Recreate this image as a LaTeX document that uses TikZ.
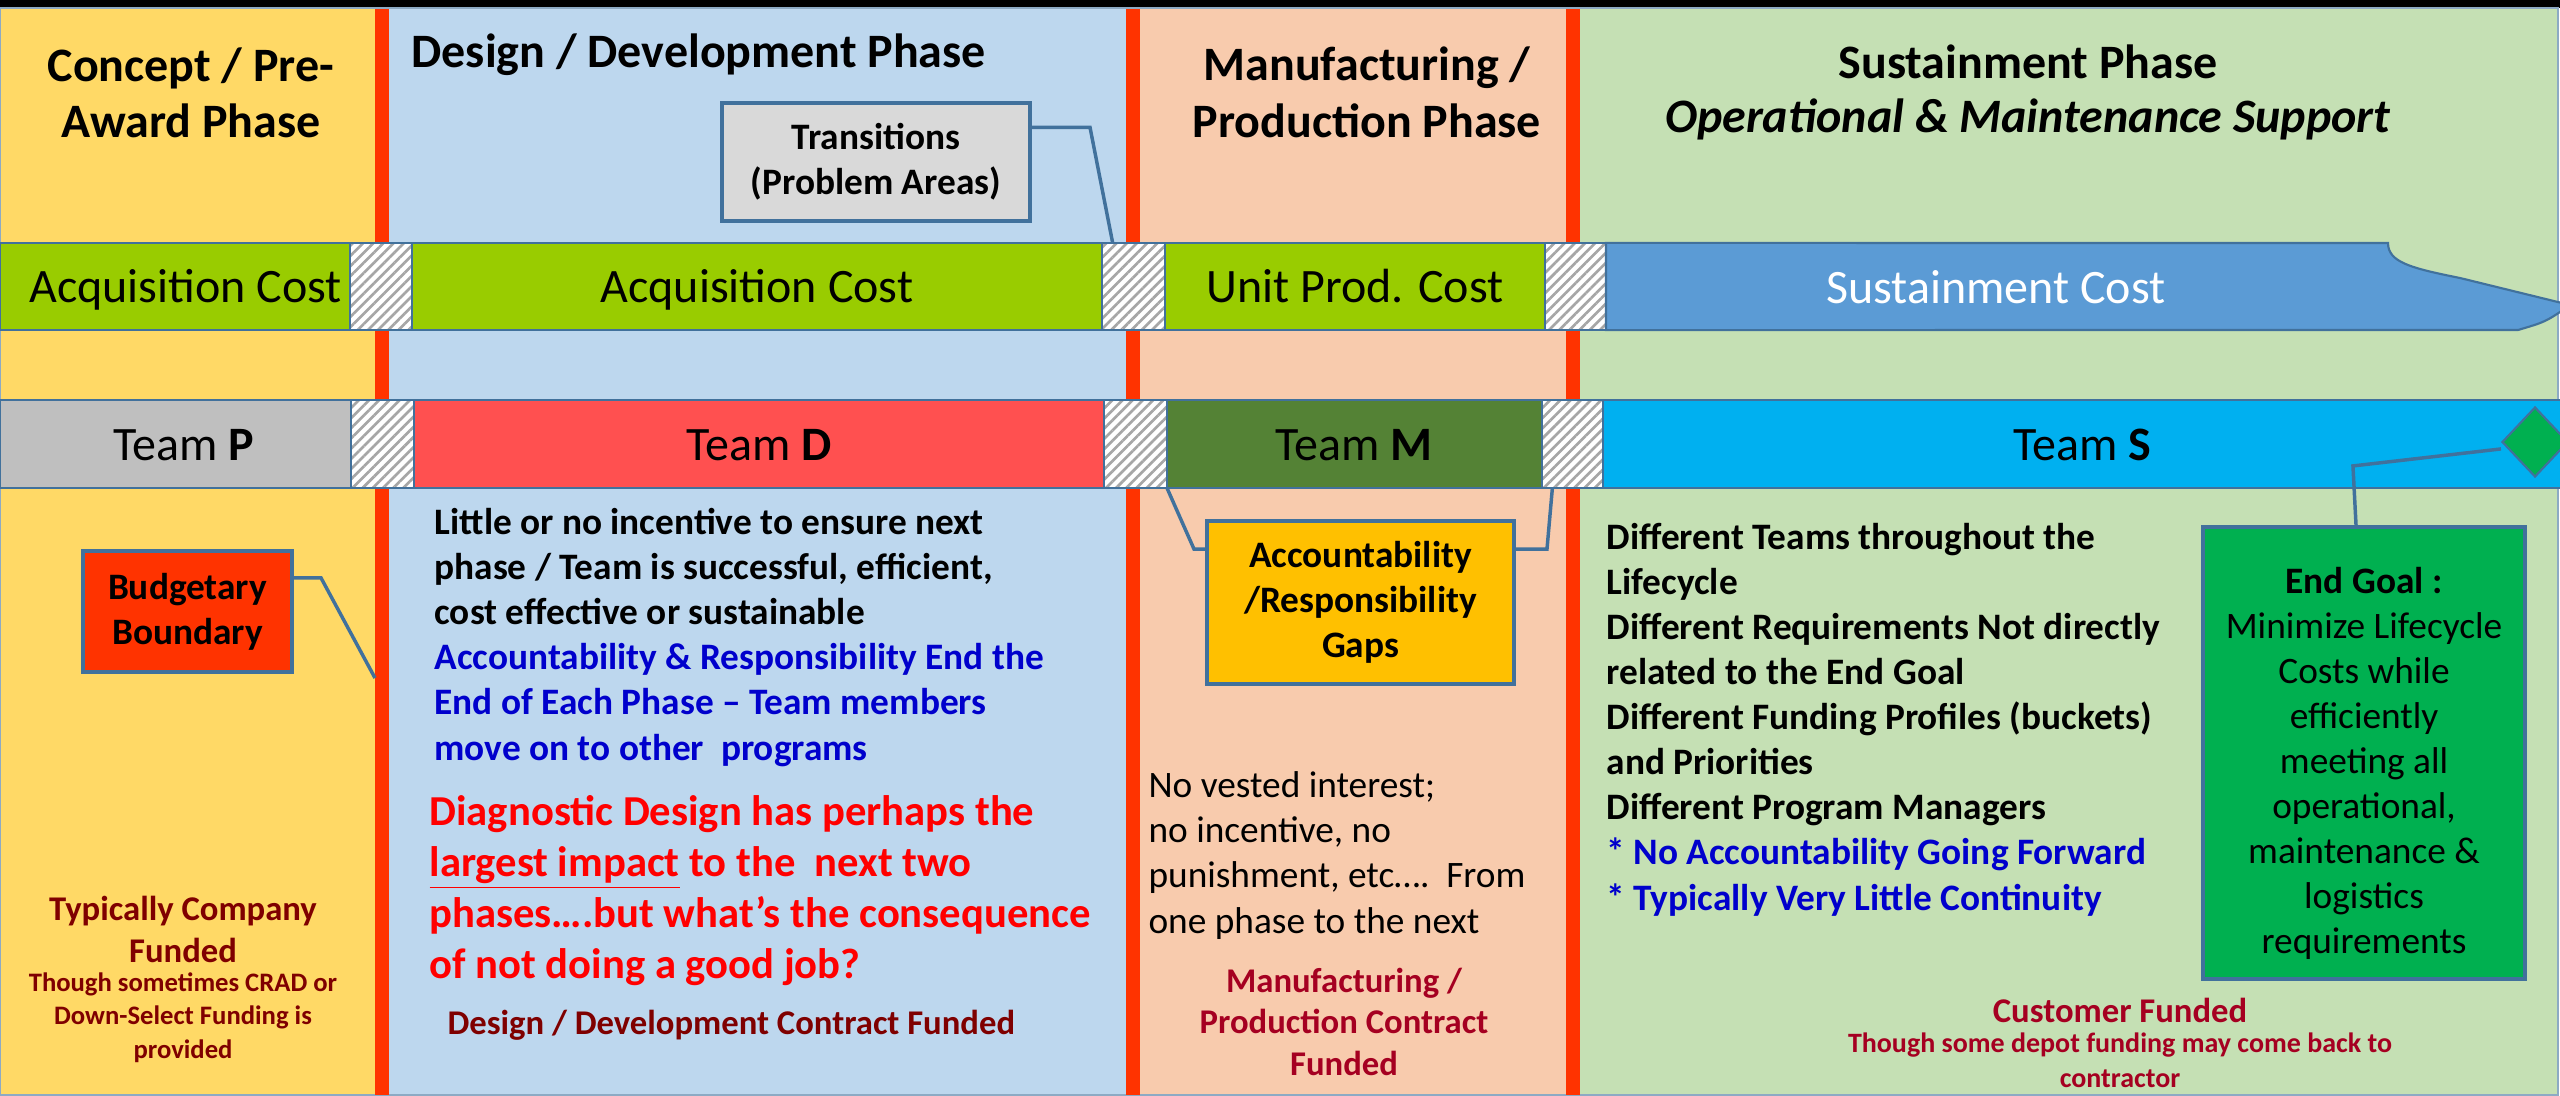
\documentclass[tikz,border=0pt]{standalone}
\usepackage{fontspec}
\setmainfont{Carlito}
\usetikzlibrary{positioning,shapes.geometric,patterns.meta}

\definecolor{conceptbg}{HTML}{FFD966}
\definecolor{designbg}{HTML}{BDD7EE}
\definecolor{manufbg}{HTML}{F8CBAD}
\definecolor{sustainbg}{HTML}{C5E0B4}
\definecolor{divred}{HTML}{FF3300}
\definecolor{edgeblue}{HTML}{41719C}
\definecolor{costgreen}{HTML}{99CC00}
\definecolor{costblue}{HTML}{5B9BD5}
\definecolor{teamgrey}{HTML}{BFBFBF}
\definecolor{teamred}{HTML}{FF5050}
\definecolor{teamgreen}{HTML}{548235}
\definecolor{teamcyan}{HTML}{00B0F0}
\definecolor{hatchgrey}{HTML}{A6A6A6}
\definecolor{boxgrey}{HTML}{D9D9D9}
\definecolor{boxorange}{HTML}{FFC000}
\definecolor{goalgreen}{HTML}{00B050}
\definecolor{noteblue}{HTML}{0000CC}
\definecolor{warnred}{HTML}{FF0000}
\definecolor{fundmaroon}{HTML}{7F0000}
\definecolor{fundcrimson}{HTML}{A50021}

\begin{document}
\begin{tikzpicture}[x=0.375pt, y=-0.375pt]
            \tikzstyle{bar} = [draw=edgeblue, line width=0.8pt, inner sep=0pt, outer sep=0pt, minimum height=32.7pt, text height=12pt, text depth=0pt, font=\fontsize{18}{21.6}\selectfont]
            \tikzstyle{gap} = [draw=edgeblue, line width=0.8pt, inner sep=0pt, outer sep=0pt, minimum height=32.7pt, preaction={fill=white}, pattern={Lines[angle=45,distance=2.7pt,line width=1pt]}, pattern color=hatchgrey]
            \tikzstyle{heading} = [inner sep=0pt, align=center, font=\fontsize{18}{21}\selectfont\bfseries]
            \tikzstyle{callout} = [draw=edgeblue, line width=1.5pt, inner sep=0pt, align=center, font=\fontsize{14}{16.9}\selectfont\bfseries]
            \tikzstyle{note} = [inner sep=0pt, anchor=base west, align=left, font=\fontsize{14}{16.9}\selectfont\bfseries]
            \tikzstyle{funded} = [inner sep=0pt, anchor=base, align=center, font=\fontsize{13}{15.4}\selectfont\bfseries]
            \tikzstyle{fundsmall} = [inner sep=0pt, anchor=base, align=center, font=\fontsize{10}{12.4}\selectfont\bfseries]
            \tikzstyle{link} = [draw=edgeblue, line width=1.3pt]

            \useasboundingbox (0,0) rectangle (2560,1095);
            \fill[black] (0,0) rectangle (2560,8);
            \filldraw[fill=conceptbg, draw=edgeblue!60, line width=0.5pt] (0,8) rectangle (382,1095);
            \filldraw[fill=designbg, draw=edgeblue!60, line width=0.5pt] (382,8) rectangle (1133,1095);
            \filldraw[fill=manufbg, draw=edgeblue!60, line width=0.5pt] (1133,8) rectangle (1573,1095);
            \filldraw[fill=sustainbg, draw=edgeblue!60, line width=0.5pt] (1573,8) rectangle (2558,1095);
            \foreach \xdiv in {382,1133,1573}
                \draw[divred, line width=5.25pt] (\xdiv,9) -- (\xdiv,1095);

            \node [heading, anchor=base] (hdP) at (191,138) {Concept / Pre-\\Award Phase};
            \node [heading, anchor=base west] (hdD) at (411,68) {Design / Development Phase};
            \node [heading, anchor=base] (hdM) at (1367,137) {Manufacturing /\\Production Phase};
            \node [heading, anchor=base, font=\fontsize{18}{19.9}\selectfont\bfseries] (hdS) at (2028,132) {Sustainment Phase\\\textit{Operational \& Maintenance Support}};

            \node [bar, fill=costgreen, minimum width=131.25pt, anchor=west] (acqP) at (0,286.5) {\hspace{8pt}Acquisition Cost};
            \node [gap, minimum width=23.25pt, right=0pt of acqP] (gapCP) {};
            \node [bar, fill=costgreen, minimum width=258.75pt, right=0pt of gapCP] (acqD) {Acquisition Cost};
            \node [gap, minimum width=23.6pt, right=0pt of acqD] (gapCD) {};
            \node [bar, fill=costgreen, minimum width=142.5pt, right=0pt of gapCD] (unitM) {Unit Prod. Cost};
            \node [gap, minimum width=22.9pt, right=0pt of unitM] (gapCM) {};
            \filldraw[fill=costblue, draw=edgeblue, line width=0.8pt] (gapCM.north east) -- (2388,243)
                .. controls (2388,262) and (2410,268) .. (2460,278) -- (2566,304) -- (2566,308)
                .. controls (2545,322) .. (2518,330) -- (gapCM.south east) -- cycle;
            \node [inner sep=0pt, anchor=base, text=white, font=\fontsize{18}{21.6}\selectfont] (sustC) at (1996,303) {Sustainment Cost};

            \node [bar, fill=teamgrey, minimum width=131.6pt, anchor=west] (teamP) at (0,444) {\hspace{6pt}Team \textbf{P}};
            \node [gap, minimum width=23.6pt, right=0pt of teamP] (gapTP) {};
            \node [bar, fill=teamred, minimum width=258.75pt, right=0pt of gapTP] (teamD) {Team \textbf{D}};
            \node [gap, minimum width=23.6pt, right=0pt of teamD] (gapTD) {};
            \node [bar, fill=teamgreen, minimum width=140.6pt, right=0pt of gapTD] (teamM) {Team \textbf{M}};
            \node [gap, minimum width=22.9pt, right=0pt of teamM] (gapTM) {};
            \node [bar, fill=teamcyan, minimum width=359.5pt, right=0pt of gapTM] (teamS) {Team \textbf{S}\hspace{10pt}};
            \node [diamond, draw=edgeblue, line width=0.8pt, fill=goalgreen, minimum width=24.75pt, minimum height=26.25pt, inner sep=0pt] (goal) at (2535,442) {};

            \node [callout, fill=boxgrey, minimum width=115.5pt, minimum height=44.25pt] (trans) at (876,162) {Transitions\\(Problem Areas)};
            \draw[link] ([yshift=13pt]trans.east) -- ++(58,0) -- ([xshift=4pt]gapCD.north west);

            \node [callout, fill=divred, minimum width=78.4pt, minimum height=45.4pt] (budget) at (187.5,611.5) {Budgetary\\Boundary};
            \coordinate (edgePD) at (375,678);
            \draw[link] ([yshift=12.6pt]budget.east) -- ++(27,0) -- (edgePD);

            \node [callout, fill=boxorange, minimum width=115.1pt, minimum height=61.1pt] (gaps) at (1360.5,602.5) {Accountability\\/Responsibility\\Gaps};
            \draw[link] ([yshift=20pt]gaps.west) -- ++(-11,0) -- (gapTD.south east);
            \draw[link] ([yshift=20pt]gaps.east) -- ++(31,0) -- ([xshift=4pt]gapTM.south west);

            \node [callout, fill=goalgreen, minimum width=120.75pt, minimum height=169.5pt, font=\fontsize{14}{16.9}\selectfont] (endgoal) at (2364,753) {\rule{0pt}{17.5pt}\textbf{End Goal :}\\Minimize Lifecycle\\Costs while\\efficiently\\meeting all\\operational,\\maintenance \&\\logistics\\requirements};
            \draw[link] ([yshift=-2.6pt]goal.west) -- ++(-148,17) -- ([xshift=-3pt]endgoal.north);

            \node [note] (noteD) at (434,760) {Little or no incentive to ensure next\\phase / Team is successful, efficient,\\cost effective or sustainable\\\textcolor{noteblue}{Accountability \& Responsibility End the}\\\textcolor{noteblue}{End of Each Phase – Team members}\\\textcolor{noteblue}{move on to other\ \ programs}};
            \node [note, text=warnred, font=\fontsize{16}{19.1}\selectfont\bfseries] (warnD) at (429,978) {Diagnostic Design has perhaps the\\\underline{largest impact} to the\ \ next two\\phases….but what’s the consequence\\of not doing a good job?};
            \node [funded, anchor=base west, text=fundmaroon] (fundD) at (447,1034) {Design / Development Contract Funded};

            \node [funded, text=fundmaroon] (fundP) at (183,962) {Typically Company\\Funded};
            \node [fundsmall, text=fundmaroon] (fundPsub) at (183,1058) {Though sometimes CRAD or\\Down-Select Funding is\\provided};

            \node [note, font=\fontsize{14}{16.9}\selectfont] (noteM) at (1148,933) {No vested interest;\\no incentive, no\\punishment, etc….\ \ From\\one phase to the next};
            \node [funded, text=fundcrimson] (fundM) at (1344,1075) {Manufacturing /\\Production Contract\\Funded};

            \node [note] (noteS) at (1606,910) {Different Teams throughout the\\Lifecycle\\Different Requirements Not directly\\related to the End Goal\\Different Funding Profiles (buckets)\\and Priorities\\Different Program Managers\\\textcolor{noteblue}{* No Accountability Going Forward}\\\textcolor{noteblue}{* Typically Very Little Continuity}};
            \node [funded, text=fundcrimson] (fundS) at (2120,1022) {Customer Funded};
            \node [fundsmall, text=fundcrimson, font=\fontsize{10.5}{12.8}\selectfont\bfseries] (fundSsub) at (2120,1087) {Though some depot funding may come back to\\contractor};
\end{tikzpicture}
\end{document}
